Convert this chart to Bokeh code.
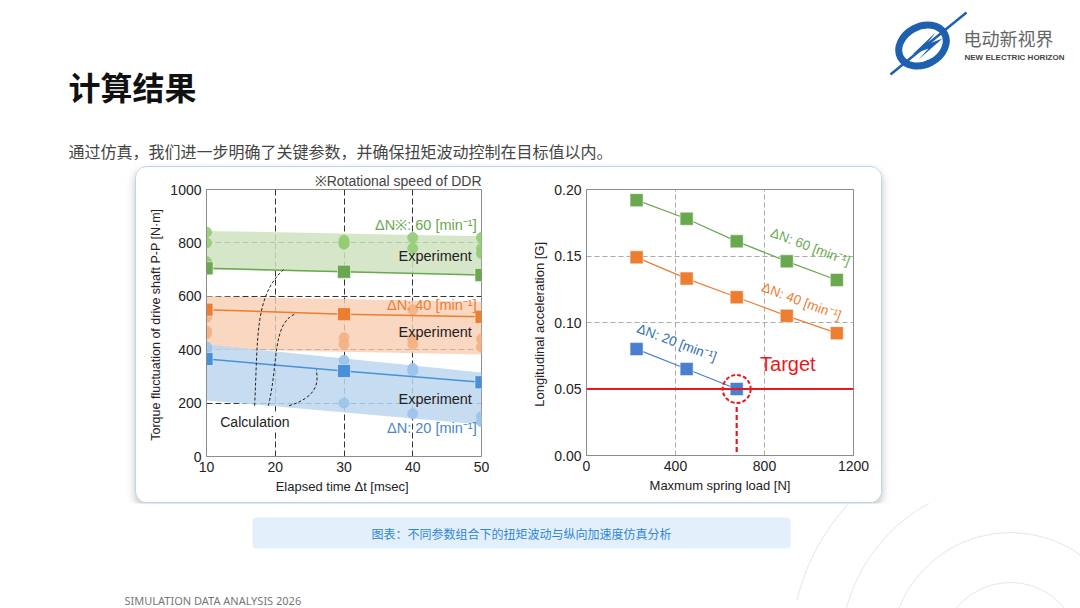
from bokeh.plotting import figure
from bokeh.layouts import column, row
from bokeh.models import Range1d, FixedTicker, Span, NumeralTickFormatter
from bokeh.core.properties import value
from bokeh.embed import file_html
from bokeh.resources import INLINE

FONT = "Liberation Sans"
CJK = "Noto Sans CJK SC"

# ---------- data: left chart ----------
calc_x = [10, 30, 50]
green_calc = [705, 692, 680]
orange_calc = [550, 533, 523]
blue_calc = [365, 320, 278]
band_x = [10, 50]
green_band_lo = [700, 680]; green_band_hi = [845, 825]
orange_band_lo = [402, 382]; orange_band_hi = [600, 580]
blue_band_lo = [210, 120]; blue_band_hi = [420, 315]
green_exp_x = [10, 10, 10, 10, 30, 30, 30, 40, 40, 50, 50, 50]
green_exp_y = [840, 800, 730, 720, 810, 800, 795, 820, 780, 820, 780, 760]
orange_exp_x = [10, 10, 10, 30, 30, 40, 40, 40, 50, 50]
orange_exp_y = [520, 470, 460, 445, 420, 550, 440, 420, 440, 410]
blue_exp_x = [10, 10, 30, 30, 30, 40, 40, 40, 50, 50]
blue_exp_y = [410, 400, 360, 330, 200, 330, 320, 160, 150, 130]
left_xticks = [10, 20, 30, 40, 50]
left_yticks = [0, 200, 400, 600, 800, 1000]

# ---------- data: right chart ----------
load_x = [225, 450, 675, 900, 1125]
acc_60 = [0.192, 0.178, 0.161, 0.146, 0.132]
acc_40 = [0.149, 0.133, 0.119, 0.105, 0.092]
load_20 = [225, 450, 675]
acc_20 = [0.080, 0.065, 0.050]
target = 0.05
right_xticks = [0, 400, 800, 1200]
right_yticks = [0, 0.05, 0.10, 0.15, 0.20]

GREEN, ORANGE, BLUE = "#6aa84f", "#ed7d31", "#4a86c8"

def base(fig):
    fig.toolbar.logo = None
    fig.background_fill_color = "white"
    fig.border_fill_color = "white"
    fig.outline_line_color = "#8c8c8c"
    for ax in (fig.xaxis, fig.yaxis):
        ax.axis_line_color = "#8c8c8c"
        ax.major_tick_out = 0
        ax.major_tick_in = 0
        ax.minor_tick_line_color = None
        ax.major_label_text_font = FONT
        ax.major_label_text_font_size = "14px"
        ax.major_label_text_color = "#222"
        ax.axis_label_text_font = FONT
        ax.axis_label_text_font_size = "13px"
        ax.axis_label_text_font_style = "normal"
        ax.axis_label_text_color = "#222"
        ax.axis_label_standoff = 4

# ---------- left chart ----------
L = figure(width=372, height=335, frame_width=275, frame_height=267,
           x_range=Range1d(10, 50), y_range=Range1d(0, 1000),
           output_backend="svg", toolbar_location=None,
           min_border_left=70, min_border_right=27, min_border_top=20, min_border_bottom=48)
base(L)
L.title.text = "※Rotational speed of DDR"
L.title.align = "right"
L.title.text_font = FONT
L.title.text_font_size = "14px"
L.title.text_font_style = "normal"
L.title.standoff = 2
L.xaxis.ticker = FixedTicker(ticks=left_xticks)
L.yaxis.ticker = FixedTicker(ticks=left_yticks)
L.xaxis.axis_label = "Elapsed time Δt  [msec]"
L.yaxis.axis_label = "Torque fluctuation of drive shaft P-P  [N·m]"
L.yaxis.axis_label_text_font_size = "12.5px"
L.xgrid.ticker = FixedTicker(ticks=[20, 30, 40])
L.ygrid.ticker = FixedTicker(ticks=[200, 400, 600, 800])
L.grid.grid_line_color = "#333"
L.grid.grid_line_dash = "6 3"
L.grid.grid_line_width = 1

L.varea(x=band_x, y1=green_band_lo, y2=green_band_hi, fill_color="#cfe3bf", fill_alpha=0.85)
L.varea(x=band_x, y1=orange_band_lo, y2=orange_band_hi, fill_color="#f7cdb1", fill_alpha=0.8)
L.varea(x=band_x, y1=blue_band_lo, y2=blue_band_hi, fill_color="#bcd6ef", fill_alpha=0.85)
L.scatter(green_exp_x, green_exp_y, size=10, color="#93cc74", alpha=0.9)
L.scatter(orange_exp_x, orange_exp_y, size=10, color="#f4b183", alpha=0.9)
L.scatter(blue_exp_x, blue_exp_y, size=10, color="#9cc3ea", alpha=0.9)
for ys, c in ((green_calc, GREEN), (orange_calc, ORANGE), (blue_calc, "#4a90d9")):
    L.line(calc_x, ys, color=c, line_width=1.5)
    L.scatter(calc_x, ys, marker="square", size=13, fill_color=c, line_color="white", line_width=0.5)

L.bezier(x0=[17, 19, 22], y0=[190, 190, 190], x1=[21.2, 23, 26], y1=[700, 535, 325],
         cx0=[17.5, 20.5, 27], cy0=[450, 350, 230], cx1=[17, 19.5, 26], cy1=[600, 500, 300],
         line_color="#222", line_dash="3 2", line_width=1)
L.text(x=[12], y=[130], text=["Calculation"], text_font=value(FONT), text_font_size="14px",
       text_baseline="middle", background_fill_color="white", text_color="#222")
kw = dict(text_font=value(FONT), text_font_size="14.5px", text_align="right", text_baseline="middle")
L.text(x=[49.3], y=[867], text=["ΔN※: 60 [min⁻¹]"], text_color=GREEN, **kw)
L.text(x=[48.6], y=[750], text=["Experiment"], text_color="#222", **kw)
L.text(x=[49.3], y=[567], text=["ΔN: 40 [min⁻¹]"], text_color=ORANGE, **kw)
L.text(x=[48.6], y=[466], text=["Experiment"], text_color="#222", **kw)
L.text(x=[48.6], y=[216], text=["Experiment"], text_color="#222", **kw)
L.text(x=[49.3], y=[108], text=["ΔN: 20 [min⁻¹]"], text_color=BLUE, **kw)

# ---------- right chart ----------
R = figure(width=373, height=335, frame_width=267, frame_height=266,
           x_range=Range1d(0, 1200), y_range=Range1d(0, 0.2),
           output_backend="svg", toolbar_location=None,
           min_border_left=78, min_border_right=28, min_border_top=22, min_border_bottom=47)
base(R)
R.xaxis.ticker = FixedTicker(ticks=right_xticks)
R.yaxis.ticker = FixedTicker(ticks=right_yticks)
R.yaxis.formatter = NumeralTickFormatter(format="0.00")
R.xaxis.axis_label = "Maxmum spring load [N]"
R.yaxis.axis_label = "Longitudinal acceleration  [G]"
R.xgrid.ticker = FixedTicker(ticks=[400, 800])
R.ygrid.ticker = FixedTicker(ticks=[0.10, 0.15])
R.grid.grid_line_color = "#aaaaaa"
R.grid.grid_line_dash = "5 3"
for xs, ys, c in ((load_x, acc_60, GREEN), (load_x, acc_40, ORANGE), (load_20, acc_20, "#4a7fd0")):
    R.line(xs, ys, color=c, line_width=1.2)
    R.scatter(xs, ys, marker="square", size=13, fill_color=c, line_color="white", line_width=0.5)
R.add_layout(Span(location=target, dimension="width", line_color="#e8191c", line_width=2.2))
R.segment(x0=[load_20[-1]], y0=[0.0365], x1=[load_20[-1]], y1=[0], line_color="#e8191c",
          line_width=2.2, line_dash="5 3")
R.scatter([load_20[-1]], [target], marker="circle", size=28, fill_color=None,
          line_color="#e8191c", line_width=2, line_dash="4 2")
R.text(x=[780], y=[0.069], text=["Target"], text_color="#e8191c", text_font=value(FONT),
       text_font_size="20px", text_baseline="middle")
rk = dict(text_font=value(FONT), text_font_size="13.5px", text_baseline="middle", angle=-0.36)
R.text(x=[830], y=[0.168], text=["ΔN: 60 [min⁻¹]"], text_color=GREEN, **rk)
R.text(x=[790], y=[0.127], text=["ΔN: 40 [min⁻¹]"], text_color=ORANGE, **rk)
R.text(x=[230], y=[0.096], text=["ΔN: 20 [min⁻¹]"], text_color="#2f6db5", **rk)

# ---------- header / footer canvases ----------
def canvas(h, y0, y1):
    f = figure(width=1080, height=h, x_range=Range1d(0, 1080), y_range=Range1d(y0, y1),
               output_backend="svg", toolbar_location=None, min_border=0)
    f.axis.visible = False
    f.grid.visible = False
    f.outline_line_color = None
    f.background_fill_color = "white"
    f.border_fill_color = "white"
    return f

H = canvas(166, 166, 0)
H.text(x=[68], y=[85], text=["计算结果"], text_font=value(CJK), text_font_size="32px",
       text_font_style="bold", text_color="#111", text_baseline="middle")
H.text(x=[68], y=[150], text=["通过仿真，我们进一步明确了关键参数，并确保扭矩波动控制在目标值以内。"],
       text_font=value(CJK), text_font_size="16px", text_color="#444", text_baseline="middle")
H.ellipse(x=[922], y=[45], width=[50], height=[38], angle=0.5, fill_color=None,
          line_color="#1f5fb0", line_width=7)
H.segment(x0=[890], y0=[74], x1=[966], y1=[12], line_color="#1f5fb0", line_width=2.5)
H.patch(x=[912, 935, 926, 942, 918, 928], y=[54, 32, 44, 38, 59, 48], fill_color="#1f5fb0", line_color=None)
H.text(x=[963], y=[37], text=["电动新视界"], text_font=value(CJK), text_font_size="18px",
       text_color="#666", text_baseline="middle")
H.text(x=[964], y=[57], text=["NEW ELECTRIC HORIZON"], text_font=value(FONT), text_font_size="8px",
       text_font_style="bold", text_color="#444", text_baseline="middle")

F = canvas(107, 608, 501)
for r in (70, 120, 170, 220):
    F.arc(x=[1010], y=[650], radius=r, start_angle=0.5, end_angle=2.9, line_color="#e6e6e6",
          line_width=1, radius_units="data")
F.quad(left=[252], right=[790], top=[515], bottom=[546], fill_color="#e3f0fb", line_color=None,
       border_radius=4)
F.text(x=[521], y=[531], text=["图表：不同参数组合下的扭矩波动与纵向加速度仿真分析"], text_font=value(CJK),
       text_font_size="12px", text_color="#2f86d8", text_align="center", text_baseline="middle")
F.text(x=[124], y=[598], text=["SIMULATION DATA ANALYSIS 2026"], text_font=value("Noto Sans"),
       text_font_size="11px", text_color="#777", text_baseline="middle")

card = row(L, R, margin=(0, 0, 0, 135),
           styles={"border": "1px solid #b9d6ee", "border-radius": "12px",
                   "box-shadow": "0 4px 8px rgba(0,0,0,0.25)", "overflow": "hidden",
                   "background-color": "white"})
page = column(H, card, F)
open("out.html", "w").write(file_html(page, INLINE))
